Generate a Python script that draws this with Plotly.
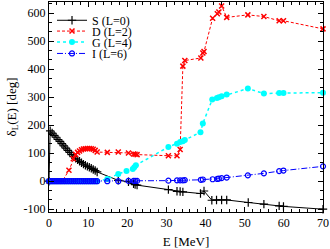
import plotly.graph_objects as go

# ---- data ----
S_E = [0.0, 0.3, 0.8, 1.3, 1.8, 2.3, 2.8, 3.3, 3.8, 4.3, 4.8, 5.3, 5.8, 6.3, 6.8, 7.3, 7.8, 8.3, 8.8, 9.3,
       9.8, 10.3, 10.8, 11.3, 11.8, 12.3, 17.7, 20.3, 21.6, 22.0, 22.5, 30.5, 32.7, 33.5, 34.2, 38.7,
       39.6, 41.6, 42.8, 44.1, 45.4, 50.9, 54.9, 58.8, 59.9, 70.0]
S_d = [0, 180, 172, 164, 157, 149, 142, 134, 126, 118, 110, 103, 95, 88, 82, 76, 71, 66, 61, 57,
       53, 50, 46, 42, 38, 33, 3, -2, -9, -12, -14, -30, -36, -37, -38, -44,
       -35, -68, -67, -67, -67, -76, -82, -88, -90, -100]

D_E = [0.0, 0.3, 0.8, 1.3, 1.8, 2.3, 2.8, 3.4, 5.1, 6.2, 6.8, 7.3, 7.8, 8.3, 8.8, 9.3, 9.8, 10.3, 10.8,
       11.3, 11.8, 12.3, 14.9, 17.7, 20.3, 21.6, 22.0, 22.5, 30.5, 32.7, 33.5, 34.2, 34.7, 38.8, 39.3,
       39.6, 41.8, 43.0, 43.4, 44.1, 45.4, 50.8, 54.9, 58.8, 59.9, 70.0]
D_d = [0, 0, 0, 0, 0, 0, 0, 0, 39, 80, 95, 103, 108, 112, 115, 116, 117, 117, 116,
       114, 110, 104, 103, 104, 101, 97, 96, 95, 91, 91, 113, 411, 431, 440, 458,
       463, 582, 598, 604, 626, 585, 594, 588, 573, 573, 544]

G_E = [0.0, 0.3, 0.8, 1.3, 1.8, 2.3, 2.8, 3.3, 3.8, 4.3, 4.8, 5.3, 5.8, 6.3, 6.8, 7.3, 7.8, 8.3, 8.8, 9.3,
       9.8, 10.3, 10.8, 11.3, 11.8, 12.3, 14.9, 17.7, 19.8, 21.4, 21.8, 22.2, 30.5, 32.7, 33.5, 34.2,
       34.7, 38.7, 39.3, 41.7, 42.9, 43.4, 44.1, 45.4, 50.8, 54.9, 58.8, 59.9, 70.0]
G_d = [0, 0, 0, 0, 0, 0, 0, 0, 0, 0, 0, 0, 0, 0, 0, 0, 0, 0, 0, 0,
       0, 0, 0, 0, 0, 0, 8, 26, 36, 44, 50, 57, 122, 134, 140, 143,
       147, 175, 206, 292, 297, 300, 303, 310, 331, 313, 315, 315, 316]

I_E = [0.0, 0.3, 0.8, 1.3, 1.8, 2.3, 2.8, 3.3, 3.8, 4.3, 4.8, 5.3, 5.8, 6.3, 6.8, 7.3, 7.8, 8.3, 8.8, 9.3,
       9.8, 10.3, 10.8, 11.3, 11.8, 12.3, 14.9, 17.7, 20.3, 21.6, 22.0, 22.5, 30.5, 32.7, 33.5, 34.2,
       34.7, 38.8, 39.3, 41.8, 43.0, 43.4, 44.1, 45.4, 50.8, 54.9, 58.8, 59.9, 70.0]
I_d = [0, 0, 0, 0, 0, 0, 0, 0, 0, 0, 0, 0, 0, 0, 0, 0, 0, 0, 0, 0,
       0, 0, 0, 0, 0, 0, 0, 0, 1, 1, 1, 1, 2, 3, 3, 3,
       4, 5, 6, 7, 8, 9, 11, 13, 21, 28, 36, 38, 53]

names = ["S (L=0)", "D (L=2)", "G (L=4)", "I (L=6)"]

x_ticks = [0, 10, 20, 30, 40, 50, 60, 70]
y_ticks = [-100, 0, 100, 200, 300, 400, 500, 600]
y_ticktext = ["-100", "0", "100", "200", "300", "400", "500", "600"]

FONT = "Liberation Serif"

fig = go.Figure()
fig.add_trace(go.Scatter(x=S_E, y=S_d, name=names[0], mode="lines+markers", cliponaxis=False,
                         line=dict(color="black", width=1),
                         marker=dict(symbol="cross-thin", size=6, line=dict(color="black", width=1.2)),
                         legend="legend"))
fig.add_trace(go.Scatter(x=D_E, y=D_d, name=names[1], mode="lines+markers", cliponaxis=False,
                         line=dict(color="#ff0000", width=1, dash="3px,2px"),
                         marker=dict(symbol="x-thin", size=5, line=dict(color="#ff0000", width=1.5)),
                         legend="legend2"))
fig.add_trace(go.Scatter(x=G_E, y=G_d, name=names[2], mode="lines+markers", cliponaxis=False,
                         line=dict(color="#00ffff", width=1.5, dash="dot"),
                         marker=dict(symbol="circle", size=6, color="#00ffff"),
                         legend="legend3"))
fig.add_trace(go.Scatter(x=I_E, y=I_d, name=names[3], mode="lines+markers", cliponaxis=False,
                         line=dict(color="#0000ff", width=1, dash="6px,2px,1px,2px"),
                         marker=dict(symbol="circle-open", size=5, color="#0000ff", line=dict(width=1.2)),
                         legend="legend4"))

leg_common = dict(x=0.011, xanchor="left", yanchor="middle", bgcolor="rgba(0,0,0,0)",
                  borderwidth=0, font=dict(family=FONT, size=12, color="black"))
fig.update_layout(
    width=330, height=249,
    margin=dict(l=49, r=7, t=1, b=36),
    plot_bgcolor="white", paper_bgcolor="white",
    font=dict(family=FONT, size=12, color="black"),
    showlegend=True,
    legend=dict(y=0.913, **leg_common),
    legend2=dict(y=0.8616, **leg_common),
    legend3=dict(y=0.8094, **leg_common),
    legend4=dict(y=0.755, **leg_common),
    xaxis=dict(range=[0, 70], tickmode="array", tickvals=x_ticks, ticks="inside", ticklen=5,
               tickcolor="black", mirror="allticks", showline=True, linecolor="black", linewidth=1,
               showgrid=False, zeroline=False,
               minor=dict(dtick=2, tick0=0, ticks="inside", ticklen=3, tickcolor="black", showgrid=False),
               tickfont=dict(family=FONT, size=12),
               title=dict(text="E [MeV]", font=dict(family=FONT, size=13), standoff=8)),
    yaxis=dict(range=[-110, 640], tickmode="array", tickvals=y_ticks, ticktext=y_ticktext,
               ticks="inside", ticklen=5, tickcolor="black", mirror="allticks", showline=True,
               linecolor="black", linewidth=1, showgrid=False, zeroline=False,
               minor=dict(dtick=100/3, tick0=0, ticks="inside", ticklen=3, tickcolor="black", showgrid=False),
               tickfont=dict(family=FONT, size=12),
               title=dict(text="δ<sub>L</sub>(E) [deg]", font=dict(family=FONT, size=13), standoff=4)),
)

fig.write_html("out.html", config={"displayModeBar": False},
               post_script="document.body.style.margin='0';document.body.style.overflow='hidden';")
